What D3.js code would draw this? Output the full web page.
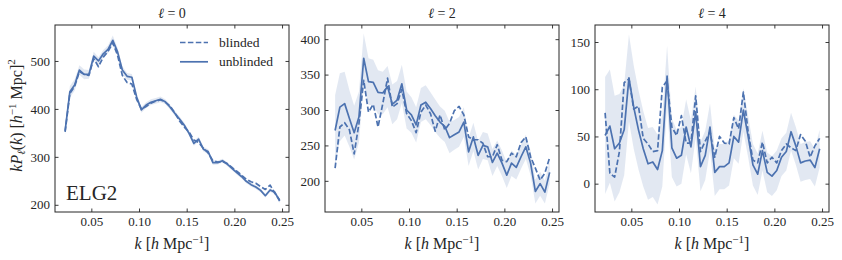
<!DOCTYPE html>
<html>
<head>
<meta charset="utf-8">
<script src="https://cdn.jsdelivr.net/npm/d3@7"></script>
<style>
  body { margin: 0; background: #fff; }
  svg text { font-family: "Liberation Serif", "DejaVu Serif", serif; fill: #262626; }
</style>
</head>
<body>
<div class="canvas"></div>
<script>
// k bin centres [h/Mpc]
const kValues = [0.0225, 0.0275, 0.0325, 0.0375, 0.0425, 0.0475, 0.0525, 0.0575, 0.0625, 0.0675,
  0.0725, 0.0775, 0.0825, 0.0875, 0.0925, 0.0975, 0.1025, 0.1075, 0.1125, 0.1175,
  0.1225, 0.1275, 0.1325, 0.1375, 0.1425, 0.1475, 0.1525, 0.1575, 0.1625, 0.1675,
  0.1725, 0.1775, 0.1825, 0.1875, 0.1925, 0.1975, 0.2025, 0.2075, 0.2125, 0.2175,
  0.2225, 0.2275, 0.2325, 0.2375, 0.2425, 0.2475];

// l = 0
const monoBlinded = [352, 432, 447, 478, 472, 470, 505, 488, 508, 520, 538, 512, 470, 455, 452, 420, 400, 405, 412, 416,
  419, 414, 406, 392, 375, 362, 352, 335, 330, 318, 308, 292, 289, 290, 286, 278, 270, 262, 253, 248,
  245, 238, 232, 241, 224, 210];
const monoUnblinded = [354, 436, 450, 481, 472, 472, 510, 500, 515, 524, 543, 519, 481, 468, 466, 425, 398, 408, 414, 417,
  420, 415, 404, 391, 379, 366, 349, 328, 337, 316, 311, 288, 288, 292, 285, 276, 267, 259, 249, 242,
  237, 230, 219, 231, 226, 208];
const monoErr = [8, 12, 12, 10, 10, 9, 9, 8, 8, 8, 10, 8, 8, 7, 7, 6, 6, 6, 6, 6,
  6, 5, 5, 5, 5, 5, 5, 5, 5, 5, 5, 5, 4, 4, 4, 4, 4, 4, 4, 4,
  4, 4, 4, 4, 4, 4];

// l = 2
const quadBlinded = [218, 276, 282, 272, 238, 281, 342, 297, 308, 276, 309, 345, 304, 309, 329, 295, 285, 268, 297, 307,
  295, 270, 293, 272, 281, 299, 305, 293, 262, 258, 258, 253, 234, 234, 251, 229, 227, 239, 234, 254,
  262, 234, 218, 201, 211, 233];
const quadUnblinded = [271, 304, 309, 288, 268, 290, 373, 340, 339, 325, 324, 333, 308, 314, 337, 300, 293, 279, 307, 311,
  302, 292, 283, 277, 261, 265, 269, 283, 241, 262, 236, 250, 248, 226, 239, 225, 208, 225, 219, 234,
  248, 225, 185, 196, 184, 212];
const quadErr = [50, 48, 45, 40, 38, 36, 35, 33, 32, 31, 30, 29, 28, 27, 27, 26, 25, 25, 24, 24,
  23, 23, 22, 22, 22, 21, 21, 21, 20, 20, 20, 19, 19, 19, 18, 18, 18, 18, 17, 17,
  17, 17, 17, 17, 16, 16];

// l = 4
const hexBlinded = [75, 11, 7, 34, 107, 111, 79, 82, 48, 42, 34, 35, 102, 109, 60, 51, 72, 43, 43, 93,
  34, 45, 55, 28, 50, 43, 42, 70, 58, 97, 55, 25, 22, 44, 22, 28, 22, 35, 42, 38,
  35, 52, 45, 28, 40, 48];
const hexUnblinded = [51, 61, 37, 43, 57, 112, 81, 57, 37, 21, 23, 15, 35, 114, 38, 27, 30, 60, 39, 76,
  18, 30, 60, 12, 18, 18, 22, 50, 44, 78, 50, 20, 10, 35, 12, 8, 14, 28, 34, 55,
  40, 22, 24, 25, 17, 37];
const hexErr = [62, 60, 56, 52, 48, 46, 44, 42, 40, 38, 37, 37, 38, 32, 31, 30, 30, 29, 28, 27,
  26, 26, 25, 25, 24, 24, 24, 23, 23, 23, 22, 22, 22, 21, 21, 21, 21, 20, 20, 20,
  20, 20, 20, 20, 20, 20];

const xTicks = [0.05, 0.10, 0.15, 0.20, 0.25];
const panelTitles = ['0', '2', '4'];
const yTicksList = [[200, 300, 400, 500], [200, 250, 300, 350, 400], [0, 50, 100, 150]];
const yDomains = [[185, 575], [156, 420], [-30, 168]];
const legendLabels = ['blinded', 'unblinded'];

const panels = [
  { blinded: monoBlinded, unblinded: monoUnblinded, err: monoErr },
  { blinded: quadBlinded, unblinded: quadUnblinded, err: quadErr },
  { blinded: hexBlinded, unblinded: hexUnblinded, err: hexErr }
];

const color = '#4C72B0';
const serif = '"Liberation Serif", "DejaVu Serif", serif';
const margin = { top: 25, left: 55 };
const graphWidth = 234;
const graphHeight = 187;
const panelStep = 270;

const svg = d3.select('.canvas')
  .append('svg')
   .attr('width', 842)
   .attr('height', 260);

const x = d3.scaleLinear()
  .domain([0.0119, 0.2573])
  .range([0, graphWidth]);

panels.forEach((p, i) => {
  const rows = kValues.map((k, j) => ({ k: k, b: p.blinded[j], u: p.unblinded[j], e: p.err[j] }));

  const y = d3.scaleLinear()
    .domain(yDomains[i])
    .range([graphHeight, 0]);

  const graph = svg.append('g')
    .attr('transform', `translate(${margin.left + i * panelStep}, ${margin.top})`);

  graph.append('clipPath')
    .attr('id', 'clip' + i)
    .append('rect')
     .attr('width', graphWidth)
     .attr('height', graphHeight);

  const plot = graph.append('g').attr('clip-path', `url(#clip${i})`);

  // error band around unblinded
  const band = d3.area()
    .x(d => x(d.k))
    .y0(d => y(d.u - d.e))
    .y1(d => y(d.u + d.e));

  plot.append('path')
    .datum(rows)
    .attr('fill', color)
    .attr('fill-opacity', 0.16)
    .attr('d', band);

  const lineB = d3.line().x(d => x(d.k)).y(d => y(d.b));
  const lineU = d3.line().x(d => x(d.k)).y(d => y(d.u));

  plot.append('path')
    .datum(rows)
    .attr('fill', 'none')
    .attr('stroke', color)
    .attr('stroke-width', 1.7)
    .attr('stroke-dasharray', '5.5,2.4')
    .attr('stroke-linejoin', 'round')
    .attr('d', lineB);

  plot.append('path')
    .datum(rows)
    .attr('fill', 'none')
    .attr('stroke', color)
    .attr('stroke-width', 1.7)
    .attr('stroke-linejoin', 'round')
    .attr('d', lineU);

  // axes, ticks pointing in on all four sides
  const xAxis = d3.axisBottom(x).tickValues(xTicks).tickFormat(d3.format('.2f'))
    .tickSizeInner(-3.5).tickSizeOuter(0).tickPadding(5);
  const yAxis = d3.axisLeft(y).tickValues(yTicksList[i]).tickFormat(d3.format('d'))
    .tickSizeInner(-3.5).tickSizeOuter(0).tickPadding(5);
  const xTop = d3.axisTop(x).tickValues(xTicks).tickFormat('')
    .tickSizeInner(-3.5).tickSizeOuter(0);
  const yRight = d3.axisRight(y).tickValues(yTicksList[i]).tickFormat('')
    .tickSizeInner(-3.5).tickSizeOuter(0);

  const axes = [
    graph.append('g').attr('transform', `translate(0, ${graphHeight})`).call(xAxis),
    graph.append('g').call(yAxis),
    graph.append('g').call(xTop),
    graph.append('g').attr('transform', `translate(${graphWidth}, 0)`).call(yRight)
  ];
  axes.forEach(a => {
    a.attr('font-family', serif);
    a.select('.domain').remove();
    a.selectAll('line').attr('stroke', '#262626').attr('stroke-width', 0.9);
    a.selectAll('text')
      .attr('font-size', '13px')
      .attr('fill', '#262626');
  });

  graph.append('rect')
    .attr('width', graphWidth)
    .attr('height', graphHeight)
    .attr('fill', 'none')
    .attr('stroke', '#262626')
    .attr('stroke-width', 1);

  // title
  const title = graph.append('text')
    .attr('x', graphWidth / 2)
    .attr('y', -7)
    .attr('text-anchor', 'middle')
    .attr('font-size', '14px');
  title.append('tspan').attr('font-style', 'italic').text('ℓ');
  title.append('tspan').text(' = ' + panelTitles[i]);

  // x label
  const xl = graph.append('text')
    .attr('x', graphWidth / 2)
    .attr('y', graphHeight + 37)
    .attr('text-anchor', 'middle')
    .attr('font-size', '16px');
  xl.append('tspan').attr('font-style', 'italic').text('k');
  xl.append('tspan').text(' [');
  xl.append('tspan').attr('font-style', 'italic').text('h');
  xl.append('tspan').text(' Mpc');
  xl.append('tspan').attr('font-size', '11px').attr('dy', -6).text('−1');
  xl.append('tspan').attr('dy', 6).text(']');
});

// y label on first panel
const yl = svg.append('text')
  .attr('transform', `translate(22, ${margin.top + graphHeight / 2 - 3}) rotate(-90)`)
  .attr('text-anchor', 'middle')
  .attr('font-size', '16px');
yl.append('tspan').attr('font-style', 'italic').text('kP');
yl.append('tspan').attr('font-style', 'italic').attr('font-size', '11px').attr('dy', 3).text('ℓ');
yl.append('tspan').attr('dy', -3).text('(');
yl.append('tspan').attr('font-style', 'italic').text('k');
yl.append('tspan').text(') [');
yl.append('tspan').attr('font-style', 'italic').text('h');
yl.append('tspan').attr('font-size', '11px').attr('dy', -6).text('−1');
yl.append('tspan').attr('dy', 6).text(' Mpc]');
yl.append('tspan').attr('font-size', '11px').attr('dy', -7).text('2');

// legend and sample label on first panel
const legend = svg.append('g').attr('transform', 'translate(180, 42.5)');
legendLabels.forEach((lab, j) => {
  legend.append('line')
    .attr('x1', 0).attr('x2', 28)
    .attr('y1', j * 19.3).attr('y2', j * 19.3)
    .attr('stroke', color)
    .attr('stroke-width', 1.7)
    .attr('stroke-dasharray', j === 0 ? '5.5,2.4' : null);
  legend.append('text')
    .attr('x', 39)
    .attr('y', j * 19.3 + 4.5)
    .attr('font-size', '13.5px')
    .text(lab);
});

svg.append('text')
  .attr('x', 66)
  .attr('y', 200)
  .attr('font-size', '21px')
  .text('ELG2');
</script>
</body>
</html>
